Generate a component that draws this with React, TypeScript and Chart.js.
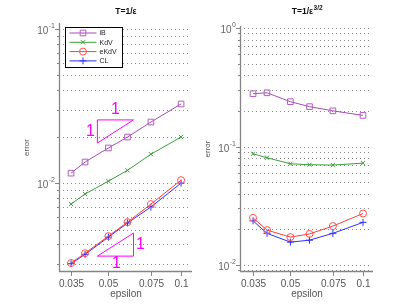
import React, { useEffect, useRef } from "react";
import { Chart, registerables } from "chart.js";
Chart.register(...registerables);

// ---------- data ----------
const epsilon = [0.035, 0.04, 0.05, 0.06, 0.075, 0.1];
const xTickValues = [0.035, 0.05, 0.075, 0.1];
const xTickLabels = ["0.035", "0.05", "0.075", "0.1"];
const seriesNames = ["iB", "KdV", "eKdV", "CL"];

// Left panel: T = 1/eps
const iBLeft = [0.0116, 0.0137, 0.0169, 0.0199, 0.0249, 0.0326];
const kdvLeft = [0.00731, 0.00849, 0.0103, 0.0121, 0.0154, 0.0199];
const ekdvLeft = [0.00303, 0.00351, 0.00453, 0.00558, 0.00731, 0.01045];
const clLeft = [0.003, 0.00345, 0.00446, 0.00551, 0.007, 0.01];

// Right panel: T = 1/eps^{3/2}
const iBRight = [0.279, 0.284, 0.239, 0.217, 0.2, 0.183];
const kdvRight = [0.0868, 0.0804, 0.0715, 0.0702, 0.0697, 0.0724];
const ekdvRight = [0.025, 0.0197, 0.0172, 0.0183, 0.0213, 0.0272];
const clRight = [0.0236, 0.0185, 0.0156, 0.0162, 0.0185, 0.0229];

// slope-1 reference triangles (data space, left panel)
const triUpperX = [0.045, 0.0635, 0.045, 0.045];
const triUpperY = [0.0257, 0.0257, 0.0182, 0.0257];
const triLowerX = [0.045, 0.0635, 0.0635, 0.045];
const triLowerY = [0.00336, 0.00336, 0.00474, 0.00336];
const triLabel = "1";

// ---------- styles ----------
const seriesColors = ["#a64bb4", "#3a9f3a", "#ff3c3c", "#3030ff"];
const markerColors = ["#b060c0", "#3a9f3a", "#ff5050", "#3030ff"];
const pointStyles = ["rect", "crossRot", "circle", "cross"];
const pointRadii = [4, 3, 3.5, 3.5];
const FONT = "'Liberation Sans', Arial, sans-serif";
const MAGENTA = "#ff00ff";

type Panel = {
  series: number[][];
  yMin: number;
  yMax: number;
  xMin: number;
  xMax: number;
  title: string;
  titleSup: string;
  legend: boolean;
  width: number;
  left: number;
  padTop: number;
  padRight: number;
  yAxisWidth: number;
  ylabelX: number;
  triangles: boolean;
};

function gridValues(min: number, max: number) {
  const vals: number[] = [];
  for (let k = Math.floor(Math.log10(min)); k <= Math.ceil(Math.log10(max)); k++) {
    for (let m = 1; m <= 9; m++) {
      const v = m * Math.pow(10, k);
      if (v >= min * 0.9999 && v <= max * 1.0001) vals.push(v);
    }
  }
  return vals;
}

function drawMarker(ctx: CanvasRenderingContext2D, style: string, x: number, y: number, r: number, color: string) {
  ctx.save();
  ctx.strokeStyle = color;
  ctx.lineWidth = 1;
  ctx.beginPath();
  if (style === "rect") {
    const s = r * Math.SQRT1_2;
    ctx.rect(x - s, y - s, 2 * s, 2 * s);
  } else if (style === "crossRot") {
    const o = r * Math.SQRT1_2;
    ctx.moveTo(x - o, y - o);
    ctx.lineTo(x + o, y + o);
    ctx.moveTo(x - o, y + o);
    ctx.lineTo(x + o, y - o);
  } else if (style === "circle") {
    ctx.arc(x, y, r, 0, Math.PI * 2);
  } else {
    ctx.moveTo(x - r, y);
    ctx.lineTo(x + r, y);
    ctx.moveTo(x, y - r);
    ctx.lineTo(x, y + r);
  }
  ctx.stroke();
  ctx.restore();
}

function makePlugin(p: Panel) {
  const grid = gridValues(p.yMin, p.yMax);
  return {
    id: "panelDecor",
    beforeDatasetsDraw(chart: any) {
      const { ctx, chartArea: a } = chart;
      const y = chart.scales.y;
      ctx.save();
      ctx.strokeStyle = "#8a8a8a";
      ctx.lineWidth = 1;
      ctx.setLineDash([1, 3]);
      for (const v of grid) {
        const py = Math.round(y.getPixelForValue(v)) + 0.5;
        ctx.beginPath();
        ctx.moveTo(a.left + 3, py);
        ctx.lineTo(a.right - 2, py);
        ctx.stroke();
      }
      ctx.restore();
    },
    afterDraw(chart: any) {
      const { ctx, chartArea: a } = chart;
      const x = chart.scales.x;
      const y = chart.scales.y;
      ctx.save();
      // axes
      ctx.strokeStyle = "#858585";
      ctx.lineWidth = 1.3;
      ctx.beginPath();
      ctx.moveTo(a.left - 0.5, a.top - 1);
      ctx.lineTo(a.left - 0.5, a.bottom + 0.5);
      ctx.lineTo(a.right, a.bottom + 0.5);
      ctx.stroke();
      // y ticks
      ctx.lineWidth = 1;
      for (const v of grid) {
        const py = Math.round(y.getPixelForValue(v)) + 0.5;
        const major = Math.abs(Math.log10(v) - Math.round(Math.log10(v))) < 1e-6;
        ctx.beginPath();
        ctx.moveTo(a.left - 1, py);
        ctx.lineTo(a.left - (major ? 5 : 3), py);
        ctx.stroke();
        if (major) {
          const exp = String(Math.round(Math.log10(v)));
          ctx.fillStyle = "#666";
          ctx.font = `7px ${FONT}`;
          const ws = ctx.measureText(exp).width;
          ctx.font = `10px ${FONT}`;
          const w10 = ctx.measureText("10").width;
          const xEnd = a.left - 5;
          ctx.textBaseline = "middle";
          ctx.textAlign = "left";
          ctx.fillText("10", xEnd - ws - w10 - 0.5, py + 1.5);
          ctx.font = `7px ${FONT}`;
          ctx.fillText(exp, xEnd - ws, py - 3);
        }
      }
      // x ticks
      ctx.fillStyle = "#555";
      ctx.font = `10px ${FONT}`;
      ctx.textAlign = "center";
      ctx.textBaseline = "middle";
      xTickValues.forEach((v, i) => {
        const px = Math.round(x.getPixelForValue(v)) + 0.5;
        ctx.beginPath();
        ctx.moveTo(px, a.bottom + 1);
        ctx.lineTo(px, a.bottom + 5);
        ctx.stroke();
        ctx.fillText(xTickLabels[i], px, a.bottom + 13);
      });
      // axis titles
      ctx.fillText("epsilon", (a.left + a.right) / 2, a.bottom + 23);
      ctx.save();
      ctx.translate(p.ylabelX, (a.top + a.bottom) / 2);
      ctx.rotate(-Math.PI / 2);
      ctx.font = `8px ${FONT}`;
      ctx.fillText("error", 0, 0);
      ctx.restore();
      // title
      ctx.fillStyle = "#111";
      ctx.font = `bold 8.5px ${FONT}`;
      const w1 = ctx.measureText(p.title).width;
      ctx.font = `bold 6.5px ${FONT}`;
      const w2 = p.titleSup ? ctx.measureText(p.titleSup).width : 0;
      const tx = (a.left + a.right) / 2 - (w1 + w2) / 2;
      ctx.textAlign = "left";
      ctx.font = `bold 8.5px ${FONT}`;
      ctx.fillText(p.title, tx, 12);
      if (p.titleSup) {
        ctx.font = `bold 6.5px ${FONT}`;
        ctx.fillText(p.titleSup, tx + w1 + 0.5, 8);
      }
      // triangle labels
      if (p.triangles) {
        ctx.fillStyle = MAGENTA;
        ctx.font = `16px ${FONT}`;
        ctx.textAlign = "center";
        ctx.textBaseline = "middle";
        const ux0 = x.getPixelForValue(triUpperX[0]);
        const ux1 = x.getPixelForValue(triUpperX[1]);
        const uyTop = y.getPixelForValue(triUpperY[0]);
        const uyBot = y.getPixelForValue(triUpperY[2]);
        ctx.fillText(triLabel, (ux0 + ux1) / 2, uyTop - 10);
        ctx.fillText(triLabel, ux0 - 7, (uyTop + uyBot) / 2);
        const lx0 = x.getPixelForValue(triLowerX[0]);
        const lx1 = x.getPixelForValue(triLowerX[1]);
        const lyBot = y.getPixelForValue(triLowerY[0]);
        const lyTop = y.getPixelForValue(triLowerY[2]);
        ctx.fillText(triLabel, (lx0 + lx1) / 2 + 1, lyBot + 7);
        ctx.fillText(triLabel, lx1 + 7, (lyTop + lyBot) / 2);
      }
      // legend
      if (p.legend) {
        const bx = a.left + 5.5;
        const by = a.top + 3.5;
        ctx.fillStyle = "#fff";
        ctx.fillRect(bx, by, 57, 40);
        ctx.strokeStyle = "#000";
        ctx.lineWidth = 1;
        ctx.strokeRect(bx, by, 57, 40);
        ctx.font = `7px ${FONT}`;
        ctx.textAlign = "left";
        ctx.textBaseline = "middle";
        seriesNames.forEach((name, i) => {
          const ry = by + 5.5 + i * 9.3;
          ctx.strokeStyle = seriesColors[i];
          ctx.beginPath();
          ctx.moveTo(bx + 4, ry);
          ctx.lineTo(bx + 31, ry);
          ctx.stroke();
          drawMarker(ctx, pointStyles[i], bx + 17.5, ry, pointRadii[i], markerColors[i]);
          ctx.fillStyle = "#222";
          ctx.fillText(name, bx + 34, ry + 0.5);
        });
      }
      ctx.restore();
    },
  };
}

function PanelChart({ p }: { p: Panel }) {
  const ref = useRef<HTMLCanvasElement | null>(null);
  useEffect(() => {
    if (!ref.current) return;
    const datasets: any[] = p.series.map((vals, i) => ({
      label: seriesNames[i],
      data: epsilon.map((e, j) => ({ x: e, y: vals[j] })),
      borderColor: seriesColors[i],
      borderWidth: 1,
      pointStyle: pointStyles[i],
      pointRadius: pointRadii[i],
      pointBorderColor: markerColors[i],
      pointBackgroundColor: "rgba(0,0,0,0)",
      pointBorderWidth: 1,
      tension: 0,
      fill: false,
    }));
    if (p.triangles) {
      [
        [triUpperX, triUpperY],
        [triLowerX, triLowerY],
      ].forEach(([xs, ys]) => {
        datasets.push({
          label: "slope",
          data: xs.map((xv, j) => ({ x: xv, y: ys[j] })),
          borderColor: MAGENTA,
          borderWidth: 1,
          pointRadius: 0,
          fill: false,
        });
      });
    }
    const chart = new Chart(ref.current, {
      type: "line",
      data: { datasets },
      options: {
        animation: false,
        responsive: false,
        events: [],
        layout: { padding: { left: 0, top: p.padTop, right: p.padRight, bottom: 0 } },
        plugins: { legend: { display: false }, tooltip: { enabled: false } },
        scales: {
          x: {
            type: "logarithmic",
            min: p.xMin,
            max: p.xMax,
            bounds: "data",
            ticks: { display: false },
            grid: { display: false },
            border: { display: false },
            afterFit: (s: any) => {
              s.height = 34;
            },
          },
          y: {
            type: "logarithmic",
            min: p.yMin,
            max: p.yMax,
            bounds: "data",
            ticks: { display: false },
            grid: { display: false },
            border: { display: false },
            afterFit: (s: any) => {
              s.width = p.yAxisWidth;
            },
          },
        },
      } as any,
      plugins: [makePlugin(p)],
    });
    return () => chart.destroy();
  }, [p]);
  return (
    <canvas
      ref={ref}
      width={p.width}
      height={305}
      style={{ position: "absolute", left: p.left, top: 0, width: p.width, height: 305 }}
    />
  );
}

const leftPanel: Panel = {
  series: [iBLeft, kdvLeft, ekdvLeft, clLeft],
  yMin: 0.00269,
  yMax: 0.1077,
  xMin: 0.0315,
  xMax: 0.111,
  title: "T=1/ε",
  titleSup: "",
  legend: true,
  width: 200,
  left: 0,
  padTop: 24,
  padRight: 8,
  yAxisWidth: 60,
  ylabelX: 27,
  triangles: true,
};

const rightPanel: Panel = {
  series: [iBRight, kdvRight, ekdvRight, clRight],
  yMin: 0.0089,
  yMax: 1.02,
  xMin: 0.0312,
  xMax: 0.11,
  title: "T=1/ε",
  titleSup: "3/2",
  legend: false,
  width: 216,
  left: 196,
  padTop: 27,
  padRight: 39,
  yAxisWidth: 45,
  ylabelX: 12,
  triangles: false,
};

export default function App() {
  return (
    <div style={{ position: "fixed", left: 0, top: 0, width: 412, height: 305, background: "#fff" }}>
      <PanelChart p={leftPanel} />
      <PanelChart p={rightPanel} />
    </div>
  );
}
